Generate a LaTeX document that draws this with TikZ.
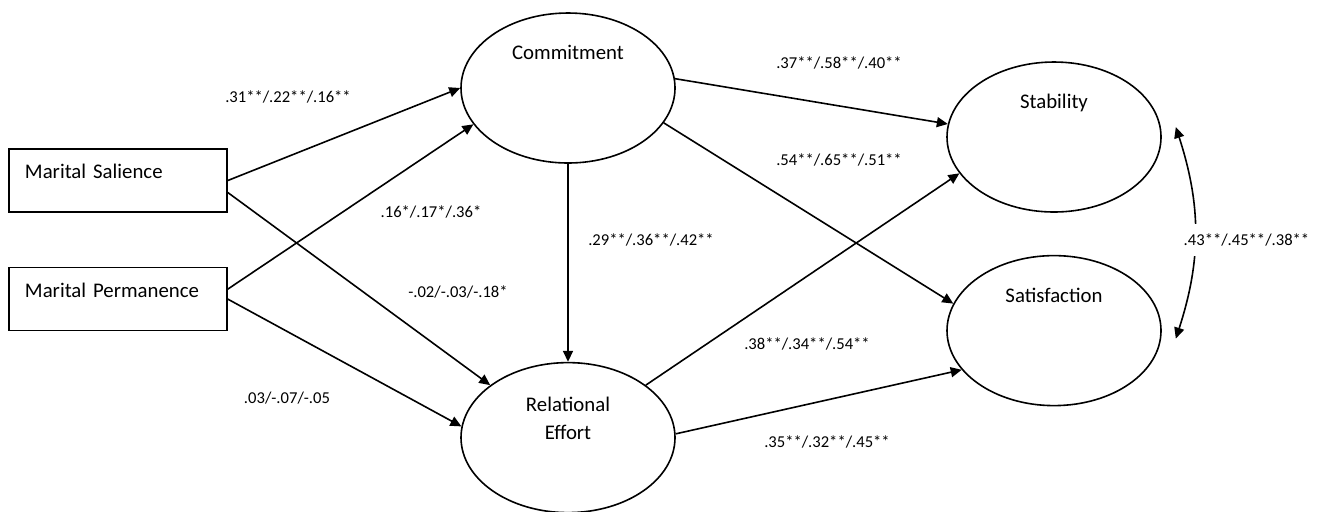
\documentclass[tikz,border=0pt]{standalone}
\usepackage{fontspec}
\setmainfont{Carlito}
\usetikzlibrary{positioning,arrows.meta,shapes.geometric}
\tikzset{
  node-box/.style={draw,line width=0.8pt,minimum width=109pt,minimum height=31.5pt,
    text width=93pt,inner xsep=8pt,align=left,text height=8pt,text depth=10pt,
    font=\fontsize{10.4}{12.5}\selectfont},
  node-latent/.style={draw,line width=0.8pt,ellipse,minimum width=107pt,
    minimum height=75pt,align=center,font=\fontsize{10.4}{12.5}\selectfont},
  node-top/.style={text height=8pt,text depth=36.5pt},
  coef/.style={font=\fontsize{8.3}{10}\selectfont,inner sep=1.5pt},
  arrow/.style={-{Triangle[length=5.5pt,width=5pt]},line width=0.8pt},
  arrow-cov/.style={{Triangle[length=5.5pt,width=5pt]}-{Triangle[length=5.5pt,width=5pt]},
    line width=0.8pt},
}
\begin{document}
\begin{tikzpicture}
  \useasboundingbox (0,0) rectangle (660pt,-255.5pt);
  % exogenous
  \node[node-box] (sal) at (59pt,-90.25pt) {Marital Salience};
  \node[node-box,below=27pt of sal] (perm) {Marital Permanence};
  % latent
  \node[node-latent,node-top] (com) at (284pt,-44pt) {Commitment};
  \node[node-latent,below=99pt of com] (rel) {Relational\\[1.5pt]Effort\\[7pt]\mbox{}};
  \node[node-latent,node-top] (stab) at (527pt,-68.5pt) {Stability};
  \node[node-latent,node-top,below=21pt of stab] (sat) {Satisfaction};

  \draw[arrow] (sal.east) -- (com.west);
  \draw[arrow] ([yshift=-6pt]sal.east) -- (rel.146);
  \draw[arrow] ([yshift=5pt]perm.east) -- (com.201);
  \draw[arrow] (perm.east) -- (rel.174);
  \draw[arrow] (com.south) -- (rel.north);
  \draw[arrow] (com.5) -- (stab.173);
  \draw[arrow] (com.340) -- (sat.165);
  \draw[arrow] (rel.34) -- (stab.201);
  \draw[arrow] (rel.2) -- (sat.203);
  \draw[arrow-cov] ([shift={(7pt,5pt)}]stab.east) to[bend left=18]
    node[coef,pos=0.5,anchor=west,fill=white,inner ysep=5pt,xshift=-7.5pt,yshift=-3.5pt]
    (c-stab-sat) {.43**/.45**/.38**} ([shift={(7pt,-4pt)}]sat.east);

  % coefficients
  \node[coef] (c-sal-com) at (144pt,-48.5pt) {.31**/.22**/.16**};
  \node[coef] (c-perm-com) at (215.5pt,-106pt) {.16*/.17*/.36*};
  \node[coef] (c-sal-rel) at (229pt,-146pt) {-.02/-.03/-.18*};
  \node[coef] (c-perm-rel) at (143.5pt,-199pt) {.03/-.07/-.05};
  \node[coef] (c-com-rel) at (325.5pt,-120pt) {.29**/.36**/.42**};
  \node[coef] (c-com-stab) at (419.5pt,-31.5pt) {.37**/.58**/.40**};
  \node[coef] (c-com-sat) at (419.5pt,-80pt) {.54**/.65**/.51**};
  \node[coef] (c-rel-stab) at (403.5pt,-172pt) {.38**/.34**/.54**};
  \node[coef] (c-rel-sat) at (413.5pt,-221pt) {.35**/.32**/.45**};
\end{tikzpicture}
\end{document}
